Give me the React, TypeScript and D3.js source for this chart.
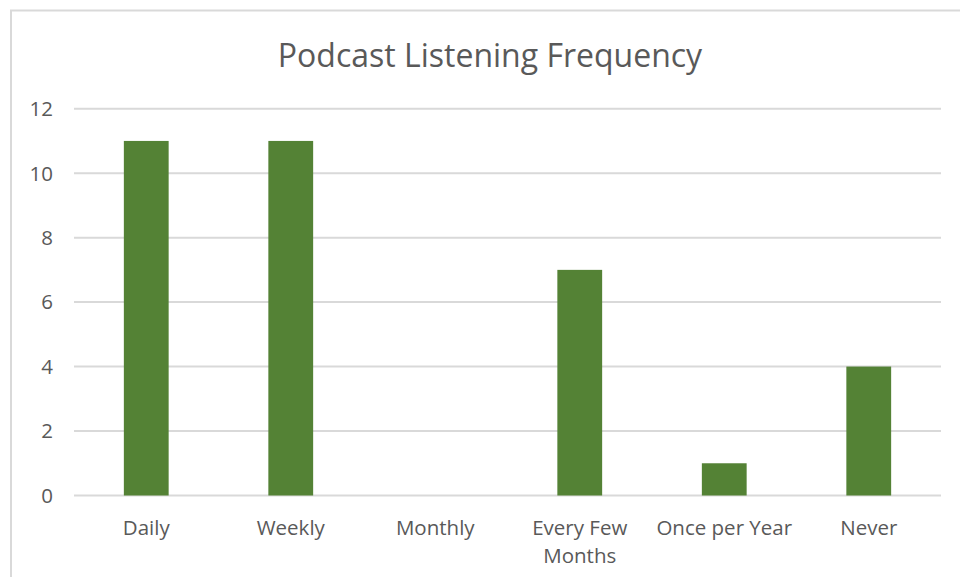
import { useEffect, useRef } from "react";
import * as d3 from "d3";

const categories = ["Daily", "Weekly", "Monthly", "Every Few Months", "Once per Year", "Never"];
const counts = [11, 11, 0, 7, 1, 4];
const yTicks = [0, 2, 4, 6, 8, 10, 12];
const title = "Podcast Listening Frequency";

export default function App() {
  const ref = useRef<SVGSVGElement>(null);
  const width = 960;
  const height = 577;
  const margin = { top: 108.7, right: 19, bottom: 81.5, left: 74 };
  const font = "'Open Sans', 'Noto Sans', sans-serif";

  useEffect(() => {
    const svg = d3.select(ref.current);
    svg.selectAll("*").remove();

    const x = d3
      .scaleBand()
      .domain(categories)
      .range([margin.left, width - margin.right])
      .paddingInner(0.69)
      .paddingOuter(0.345);
    const y = d3
      .scaleLinear()
      .domain([0, 12])
      .range([height - margin.bottom, margin.top]);

    // frame
    svg
      .append("rect")
      .attr("x", 11)
      .attr("y", 10.5)
      .attr("width", width + 20)
      .attr("height", height + 20)
      .attr("fill", "#fff")
      .attr("stroke", "#d9d9d9")
      .attr("stroke-width", 2);

    svg
      .append("text")
      .attr("x", 490)
      .attr("y", 67)
      .attr("text-anchor", "middle")
      .attr("font-family", font)
      .attr("font-size", 32)
      .attr("fill", "#595959")
      .text(title);

    // gridlines
    svg
      .append("g")
      .selectAll("line")
      .data(yTicks)
      .join("line")
      .attr("x1", margin.left)
      .attr("x2", width - margin.right)
      .attr("y1", (d) => y(d))
      .attr("y2", (d) => y(d))
      .attr("stroke", "#d9d9d9")
      .attr("stroke-width", 2);

    svg
      .append("g")
      .selectAll("text")
      .data(yTicks)
      .join("text")
      .attr("x", 53)
      .attr("y", (d) => y(d))
      .attr("dy", "0.36em")
      .attr("text-anchor", "end")
      .attr("font-family", font)
      .attr("font-size", 20.5)
      .attr("fill", "#595959")
      .text((d) => d);

    svg
      .append("g")
      .selectAll("rect")
      .data(counts)
      .join("rect")
      .attr("x", (d, i) => x(categories[i])!)
      .attr("width", x.bandwidth())
      .attr("y", (d) => y(d))
      .attr("height", (d) => y(0) - y(d))
      .attr("fill", "#548235");

    // category labels, wrapped to band width
    const step = x.step();
    const labels = svg
      .append("g")
      .selectAll("text")
      .data(categories)
      .join("text")
      .attr("x", (d) => x(d)! + x.bandwidth() / 2)
      .attr("y", 535)
      .attr("text-anchor", "middle")
      .attr("font-family", font)
      .attr("font-size", 20.5)
      .attr("fill", "#595959");

    labels.each(function (d) {
      const t = d3.select(this);
      const cx = +t.attr("x");
      const words = d.split(" ");
      let line: string[] = [];
      let tspan = t.append("tspan").attr("x", cx).attr("dy", 0);
      for (const w of words) {
        line.push(w);
        tspan.text(line.join(" "));
        const node = tspan.node() as SVGTSpanElement;
        if (node.getComputedTextLength() > step && line.length > 1) {
          line.pop();
          tspan.text(line.join(" "));
          line = [w];
          tspan = t.append("tspan").attr("x", cx).attr("dy", 28).text(w);
        }
      }
    });
  }, []);

  return (
    <svg
      ref={ref}
      width={width}
      height={height}
      style={{ position: "absolute", left: 0, top: 0, background: "#fff" }}
    />
  );
}
